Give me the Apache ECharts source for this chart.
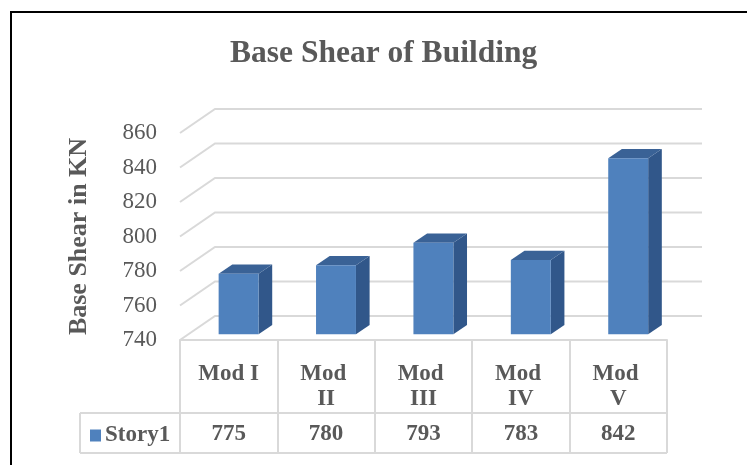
<!DOCTYPE html>
<html>
<head>
<meta charset="utf-8">
<script src="https://cdn.jsdelivr.net/npm/echarts@6/dist/echarts.min.js"></script>
<style>html,body{margin:0;padding:0;background:#fff;}#c{width:747px;height:465px;}</style>
</head>
<body>
<div id="c"></div>
<script>
const categories = ['Mod I', 'Mod II', 'Mod III', 'Mod IV', 'Mod V'];
const story1 = [775, 780, 793, 783, 842];
const seriesName = 'Story1';
const yTicks = [740, 760, 780, 800, 820, 840, 860];
const titleText = 'Base Shear of Building';
const yAxisName = 'Base Shear in KN';

const FONT = "'Liberation Serif', 'Times New Roman', serif";
const TXT = '#595959';
const GRIDC = '#D9D9D9';
const DX = 35, DY = -24;          // depth of the 3D box
const F0 = 0.24, F1 = 0.63;       // bar front / back depth fractions
const YMIN = yTicks[0], YMAX = yTicks[yTicks.length - 1];

const chart = echarts.init(document.getElementById('c'), null, {renderer: 'canvas'});

function wallsItem(params, api) {
  const cs = params.coordSys;
  const v = api.value(1);
  const y = api.coord([0, v])[1];
  const children = [{
    type: 'polyline',
    shape: {points: [[cs.x, y], [cs.x + DX, y + DY], [cs.x + cs.width + DX, y + DY]]},
    style: {stroke: GRIDC, lineWidth: 2, fill: null}
  }];
  if (params.dataIndex === 0) {
    const bottom = cs.y + cs.height;
    const left = cs.x - 100;
    const right = cs.x + cs.width;
    const r1 = bottom + 73, r2 = bottom + 113;
    children.push(
      {type: 'line', shape: {x1: left, y1: r1, x2: right, y2: r1}, style: {stroke: GRIDC, lineWidth: 2}},
      {type: 'line', shape: {x1: left, y1: r2, x2: right, y2: r2}, style: {stroke: GRIDC, lineWidth: 2}},
      {type: 'line', shape: {x1: left, y1: r1, x2: left, y2: r2}, style: {stroke: GRIDC, lineWidth: 2}}
    );
  }
  return {type: 'group', children: children};
}

function barItem(params, api) {
  const i = api.value(0);
  const v = api.value(1);
  const top = api.coord([i, v]);
  const base = api.coord([i, YMIN]);
  const bw = api.size([1, 0])[0];
  const w = bw * 0.41;
  const ox = DX * F0 + 1.5, oy = DY * F0;
  const dx = DX * (F1 - F0), dy = DY * (F1 - F0);
  const x0 = top[0] + ox - w / 2;
  const yt = top[1] + oy, yb = base[1] + oy;
  return {
    type: 'group',
    children: [
      {type: 'polygon', shape: {points: [[x0 + w, yt], [x0 + w + dx, yt + dy], [x0 + w + dx, yb + dy], [x0 + w, yb]]},
       style: {fill: '#31578A'}},
      {type: 'polygon', shape: {points: [[x0, yt], [x0 + dx, yt + dy], [x0 + w + dx, yt + dy], [x0 + w, yt]]},
       style: {fill: '#3A6296'}},
      {type: 'rect', shape: {x: x0, y: yt, width: w, height: yb - yt},
       style: {fill: '#4F81BD'}}
    ]
  };
}

chart.setOption({
  animation: false,
  backgroundColor: '#fff',
  title: {
    text: titleText, left: 230, top: 38, padding: 0,
    textStyle: {fontFamily: FONT, fontSize: 31.5, fontWeight: 'bold', color: TXT}
  },
  legend: {
    data: [seriesName], left: 85, top: 419, itemWidth: 11, itemHeight: 12, icon: 'rect', itemGap: 0,
    textStyle: {fontFamily: FONT, fontSize: 23, fontWeight: 'bold', color: TXT, padding: [0, 0, 0, -1]}
  },
  graphic: [{
    type: 'rect', shape: {x: 11, y: 12, width: 800, height: 500},
    style: {stroke: '#000', lineWidth: 2, fill: null}, z: 100
  }],
  grid: {left: 180, right: 80, top: 133, bottom: 125},
  xAxis: [{
    type: 'category', data: categories,
    axisLine: {show: true, lineStyle: {color: GRIDC, width: 2}},
    axisTick: {show: true, alignWithLabel: false, length: 113, lineStyle: {color: GRIDC, width: 2}},
    axisLabel: {
      interval: 0, margin: 22, lineHeight: 25, width: 62, overflow: 'break',
      fontFamily: FONT, fontSize: 23, fontWeight: 'bold', color: TXT
    }
  }, {
    type: 'category', data: categories, position: 'bottom',
    axisLine: {show: false}, axisTick: {show: false},
    axisLabel: {
      interval: 0, margin: 94, verticalAlign: 'middle',
      fontFamily: FONT, fontSize: 23, fontWeight: 'bold', color: TXT,
      formatter: (v, idx) => String(story1[idx])
    }
  }],
  yAxis: {
    type: 'value', min: YMIN, max: YMAX, interval: 20,
    name: yAxisName, nameLocation: 'middle', nameGap: 88, nameRotate: 90,
    nameTextStyle: {fontFamily: FONT, fontSize: 26, fontWeight: 'bold', color: TXT},
    axisLine: {show: false}, axisTick: {show: false}, splitLine: {show: false},
    axisLabel: {margin: 23, fontFamily: FONT, fontSize: 23, color: TXT}
  },
  series: [{
    type: 'custom', name: 'walls', silent: true, z: 1,
    renderItem: wallsItem,
    encode: {x: 0, y: 1},
    data: yTicks.map(v => [0, v])
  }, {
    type: 'custom', name: seriesName, z: 2,
    itemStyle: {color: '#4F81BD'},
    renderItem: barItem,
    encode: {x: 0, y: 1},
    data: story1.map((v, i) => [i, v])
  }]
});
</script>
</body>
</html>
